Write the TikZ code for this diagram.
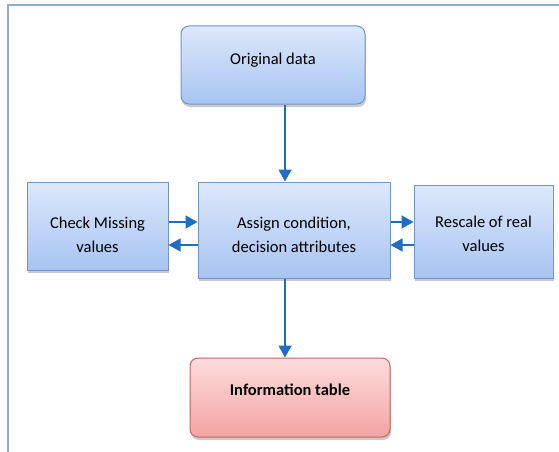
\documentclass[tikz,border=0pt]{standalone}
\usepackage{fontspec}
\setmainfont{Carlito}
\usetikzlibrary{shadows,arrows.meta}
\definecolor{bluetop}{HTML}{DDE8FB}
\definecolor{bluebot}{HTML}{A8C4F2}
\definecolor{blueedge}{HTML}{7096C9}
\definecolor{redtop}{HTML}{FDDCDC}
\definecolor{redbot}{HTML}{F4A3A3}
\definecolor{rededge}{HTML}{C86464}
\definecolor{arrowblue}{HTML}{1F6FC0}
\definecolor{framecol}{HTML}{8FAADC}
\tikzset{
  boxbase/.style={draw, line width=1pt, inner sep=0pt,
    drop shadow={shadow xshift=1pt, shadow yshift=-3pt, opacity=0.35, fill=black!60}},
  bluebox/.style={boxbase, draw=blueedge, top color=bluetop, bottom color=bluebot},
  redbox/.style={boxbase, draw=rededge, top color=redtop, bottom color=redbot, rounded corners=8pt},
  boxtext/.style={align=center, inner sep=0pt, text=black,
    font=\fontsize{16.5}{24}\selectfont},
  link/.style={draw=arrowblue, line width=1.3pt, -{Triangle[length=12pt,width=13pt]}}
}
\begin{document}
\begin{tikzpicture}[x=1pt,y=-1pt]
\useasboundingbox (0,0) rectangle (559,452);
% outer frame (top and left edges)
\draw[framecol, line width=1.5pt] (8,452) -- (8,5) -- (559,5);

% boxes
\node[bluebox, rounded corners=8pt, minimum width=184pt, minimum height=78pt] (orig) at (273,65) {};
\node[bluebox, minimum width=141pt, minimum height=88pt] (check) at (97.5,226) {};
\node[bluebox, minimum width=192pt, minimum height=96pt] (assign) at (294,230) {};
\node[bluebox, minimum width=139pt, minimum height=93pt] (rescale) at (483.5,231.5) {};
\node[redbox, minimum width=200pt, minimum height=79pt] (info) at (290,397.5) {};

% box texts
\node[boxtext] (orig-t) at ([yshift=5pt]orig.center) {Original data};
\node[boxtext] (check-t) at ([yshift=-9pt]check.center) {Check Missing\\values};
\node[boxtext] (assign-t) at ([yshift=-5pt]assign.center) {Assign condition,\\decision attributes};
\node[boxtext] (rescale-t) at ([yshift=-2pt]rescale.center) {Rescale of real\\values};
\node[boxtext, font=\fontsize{16.5}{24}\selectfont\bfseries] (info-t) at ([yshift=8pt]info.center) {Information table};

% connectors
\coordinate (c1) at (285,0);
\draw[link] (orig.south -| c1) -- (assign.north -| c1);
\draw[link] (assign.south -| c1) -- (info.north -| c1);

\coordinate (yr) at (0,222);
\coordinate (yl) at (0,245);
\draw[link] (check.east |- yr) -- (assign.west |- yr);
\draw[link] (assign.west |- yl) -- (check.east |- yl);
\draw[link] (assign.east |- yr) -- (rescale.west |- yr);
\draw[link] (rescale.west |- yl) -- (assign.east |- yl);
\end{tikzpicture}
\end{document}
